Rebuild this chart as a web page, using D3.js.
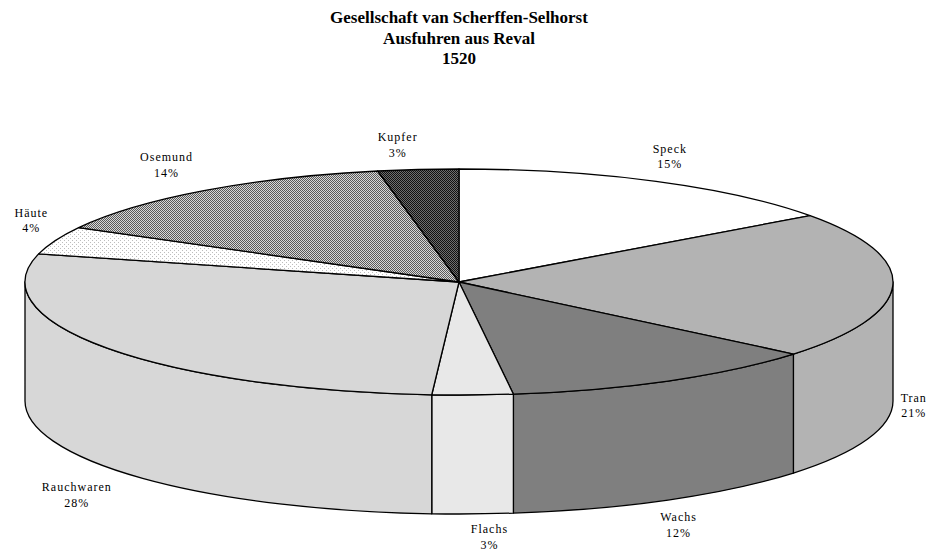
<!DOCTYPE html>
<html>
<head>
<meta charset="utf-8">
<script src="https://cdn.jsdelivr.net/npm/d3@7"></script>
<style>
  body { margin: 0; background: #fff; }
  svg { display: block; }
</style>
</head>
<body>
<svg id="chart" width="929" height="551"></svg>
<script>
// Export shares of the Scherffen-Selhorst company, Reval 1520
const titleLines = ["Gesellschaft van Scherffen-Selhorst", "Ausfuhren aus Reval", "1520"];
const categories = ["Speck", "Tran", "Wachs", "Flachs", "Rauchwaren", "Häute", "Osemund", "Kupfer"];
const shares = [15, 21, 12, 3, 28, 4, 14, 3];

// Fill for each wedge (solid greys or small bitmap patterns)
const fills = {
  "Speck": "#ffffff",
  "Tran": "#b3b3b3",
  "Wachs": "#7f7f7f",
  "Flachs": "#e8e8e8",
  "Rauchwaren": "#d7d7d7",
  "Häute": "url(#pat-dots)",
  "Osemund": "url(#pat-mid)",
  "Kupfer": "url(#pat-dark)"
};
// Fine adjustments of label placement around the rim
const labelShift = {
  "Speck": [2, 0], "Tran": [-5, 0], "Wachs": [-2, 0], "Flachs": [16, -5],
  "Rauchwaren": [-10, 11], "Häute": [0, -10], "Osemund": [-22, -3], "Kupfer": [-18, 3]
};

const W = 929, H = 551;
const cx = 459, cy = 282, rx = 434, ry = 113, depth = 119;
const serif = "'Liberation Serif', 'Times New Roman', Times, serif";

const svg = d3.select("#chart");
const defs = svg.append("defs");

function checker(id, size, cells, bg) {
  const p = defs.append("pattern")
    .attr("id", id).attr("patternUnits", "userSpaceOnUse")
    .attr("width", size).attr("height", size);
  p.append("rect").attr("width", size).attr("height", size).attr("fill", bg)
    .attr("shape-rendering", "crispEdges");
  cells.forEach(([x, y, c]) => {
    p.append("rect").attr("x", x).attr("y", y).attr("width", 1).attr("height", 1)
      .attr("fill", c).attr("shape-rendering", "crispEdges");
  });
}
checker("pat-mid", 2, [[0, 0, "#5a5a5a"], [1, 1, "#5a5a5a"]], "#d8d8d8");
checker("pat-dark", 2, [[0, 0, "#111111"], [1, 1, "#111111"]], "#6e6e6e");
checker("pat-dots", 4, [[0, 0, "#bdbdbd"], [2, 2, "#bdbdbd"]], "#ffffff");

// Title
const title = svg.append("g")
  .attr("font-family", serif).attr("font-weight", "bold")
  .attr("font-size", 17).attr("text-anchor", "middle").attr("fill", "#000");
title.selectAll("text").data(titleLines).join("text")
  .attr("x", cx).attr("y", (d, i) => 23 + i * 20.5).text(d => d);

// Pie layout, clockwise from 12 o'clock, in the given order
const arcs = d3.pie().sort(null).value(d => d)(shares)
  .map((a, i) => ({ ...a, name: categories[i] }));

const pt = (ang, dy = 0) => [cx + rx * Math.sin(ang), cy - ry * Math.cos(ang) + dy];

function topPath(a0, a1) {
  const p0 = pt(a0), p1 = pt(a1);
  const large = a1 - a0 > Math.PI ? 1 : 0;
  return `M${cx},${cy}L${p0}A${rx},${ry} 0 ${large} 1 ${p1}Z`;
}
function sidePath(a0, a1) {
  const p0 = pt(a0), p1 = pt(a1), q1 = pt(a1, depth), q0 = pt(a0, depth);
  return `M${p0}A${rx},${ry} 0 0 1 ${p1}L${q1}A${rx},${ry} 0 0 0 ${q0}Z`;
}

const g = svg.append("g")
  .attr("stroke", "#000").attr("stroke-width", 1.3).attr("stroke-linejoin", "round");

// Outer walls: only the front half of the disc is visible
const front = arcs
  .map(a => ({ ...a, s: Math.max(a.startAngle, Math.PI / 2), e: Math.min(a.endAngle, 3 * Math.PI / 2) }))
  .filter(a => a.e > a.s);
g.selectAll("path.side").data(front).join("path")
  .attr("class", "side")
  .attr("d", a => sidePath(a.s, a.e))
  .attr("fill", a => fills[a.name]);

// Top faces
g.selectAll("path.top").data(arcs).join("path")
  .attr("class", "top")
  .attr("d", a => topPath(a.startAngle, a.endAngle))
  .attr("fill", a => fills[a.name]);

// Labels: name and percentage outside the rim
const labels = svg.append("g")
  .attr("font-family", serif).attr("font-size", 12)
  .attr("letter-spacing", 1).attr("text-anchor", "middle").attr("fill", "#000");
arcs.forEach(a => {
  const mid = (a.startAngle + a.endAngle) / 2;
  const c = Math.cos(mid);
  const [sx, sy] = labelShift[a.name];
  const x = cx + (rx + 26) * Math.sin(mid) + sx;
  const y = cy - (ry + 28) * c + (c < 0 ? depth : 0) + sy;
  const t = labels.append("text").attr("x", x).attr("y", y - 3.5);
  t.append("tspan").attr("x", x).text(a.name);
  t.append("tspan").attr("x", x).attr("dy", 15.5).text(`${a.data}%`);
});
</script>
</body>
</html>
